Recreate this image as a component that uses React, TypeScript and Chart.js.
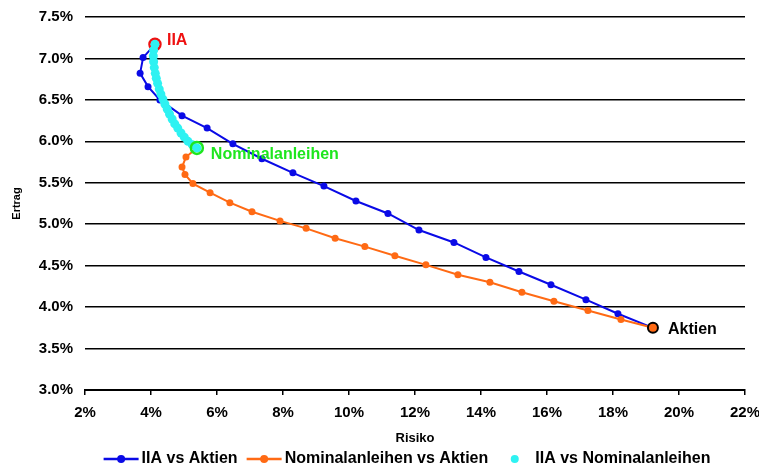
import React, { useEffect, useRef } from 'react';
import { Chart, registerables } from 'chart.js';

Chart.register(...registerables);

// ---- Data (Risiko %, Ertrag %) ----
const iiaAktienRisk = [4.12, 3.76, 3.67, 3.91, 4.27, 4.94, 5.70, 6.48, 7.36, 8.30, 9.24, 10.21, 11.18, 12.12, 13.18, 14.15, 15.15, 16.12, 17.18, 18.15, 19.21];
const iiaAktienReturn = [7.17, 7.01, 6.82, 6.66, 6.50, 6.31, 6.16, 5.97, 5.79, 5.62, 5.46, 5.28, 5.13, 4.93, 4.78, 4.60, 4.43, 4.27, 4.09, 3.92, 3.75];

const nomAktienRisk = [5.39, 5.06, 4.94, 5.03, 5.27, 5.79, 6.39, 7.06, 7.91, 8.70, 9.58, 10.48, 11.39, 12.33, 13.30, 14.27, 15.24, 16.21, 17.24, 18.24, 19.21];
const nomAktienReturn = [5.92, 5.81, 5.69, 5.60, 5.49, 5.38, 5.26, 5.15, 5.04, 4.95, 4.83, 4.73, 4.62, 4.51, 4.39, 4.30, 4.18, 4.07, 3.96, 3.85, 3.75];

const iiaNomRisk = [4.12, 4.08, 4.07, 4.08, 4.10, 4.13, 4.16, 4.20, 4.25, 4.30, 4.36, 4.42, 4.49, 4.56, 4.64, 4.72, 4.81, 4.91, 5.01, 5.12, 5.25, 5.39];
const iiaNomReturn = [7.17, 7.10, 7.03, 6.96, 6.89, 6.82, 6.76, 6.70, 6.63, 6.57, 6.51, 6.45, 6.39, 6.33, 6.27, 6.21, 6.16, 6.10, 6.05, 6.00, 5.96, 5.92];

const assetNames = ['IIA', 'Nominalanleihen', 'Aktien'];
const assetRisk = [4.12, 5.39, 19.21];
const assetReturn = [7.17, 5.92, 3.75];

const seriesLabels = ['IIA vs Aktien', 'Nominalanleihen vs Aktien', 'IIA vs Nominalanleihen'];

const xTicks = [2, 4, 6, 8, 10, 12, 14, 16, 18, 20, 22];
const yMin = 3.0;
const yMax = 7.5;
const yStep = 0.5;

const FONT = '"Liberation Sans", Arial, Helvetica, sans-serif';

const toPoints = (xs: number[], ys: number[]) => xs.map((x, i) => ({ x, y: ys[i] }));

const BLUE = '#0a0ae6';
const ORANGE = '#ff6a14';
const CYAN = '#2ef2f2';
const GREEN = '#1ee61e';
const RED = '#ee1111';

const legendPlugin = {
  id: 'customLegend',
  afterDraw(chart: any) {
    const ctx = chart.ctx as CanvasRenderingContext2D;
    const items = chart.data.datasets
      .filter((d: any) => d.inLegend)
      .sort((a: any, b: any) => seriesLabels.indexOf(a.label) - seriesLabels.indexOf(b.label));
    ctx.save();
    ctx.font = `bold 16px ${FONT}`;
    ctx.textBaseline = 'middle';
    const sampleW = 35, textGap = 3, itemGap = 9;
    const widths = items.map((d: any) => sampleW + textGap + ctx.measureText(d.label).width);
    const total = widths.reduce((a: number, b: number) => a + b, 0) + itemGap * (items.length - 1);
    const ca = chart.chartArea;
    let x = (ca.left + ca.right) / 2 - 8 - total / 2;
    const y = 459;
    items.forEach((d: any, i: number) => {
      const cx = x + sampleW / 2;
      if (d.showLine) {
        ctx.strokeStyle = d.borderColor;
        ctx.lineWidth = 2.5;
        ctx.beginPath();
        ctx.moveTo(x, y);
        ctx.lineTo(x + sampleW, y);
        ctx.stroke();
      }
      ctx.fillStyle = d.pointBackgroundColor;
      ctx.beginPath();
      ctx.arc(cx, y, 4, 0, Math.PI * 2);
      ctx.fill();
      ctx.fillStyle = '#000';
      ctx.fillText(d.label, x + sampleW + textGap, y);
      x += widths[i] + itemGap;
    });
    ctx.restore();
  },
};

const labelPlugin = {
  id: 'assetLabels',
  afterDatasetsDraw(chart: any) {
    const ctx = chart.ctx as CanvasRenderingContext2D;
    const xs = chart.scales.x;
    const ys = chart.scales.y;
    const colors = [RED, GREEN, '#000'];
    const offsets = [[12, -4], [14, 7], [15, 2]];
    ctx.save();
    ctx.font = `bold 16px ${FONT}`;
    ctx.textBaseline = 'middle';
    ctx.textAlign = 'left';
    assetNames.forEach((name, i) => {
      const px = xs.getPixelForValue(assetRisk[i]);
      const py = ys.getPixelForValue(assetReturn[i]);
      ctx.fillStyle = colors[i];
      ctx.fillText(name, px + offsets[i][0], py + offsets[i][1]);
    });
    ctx.restore();
  },
};

export default function App() {
  const ref = useRef<HTMLCanvasElement | null>(null);

  useEffect(() => {
    document.body.style.margin = '0';
    const canvas = ref.current;
    if (!canvas) return;
    Chart.defaults.font.family = FONT;
    const chart = new Chart(canvas, {
      type: 'scatter',
      data: {
        datasets: [
          {
            label: assetNames[1],
            data: [{ x: assetRisk[1], y: assetReturn[1] }],
            pointRadius: 6,
            pointBorderWidth: 2.5,
            pointBorderColor: GREEN,
            pointBackgroundColor: 'rgba(0,0,0,0)',
            showLine: false,
            order: 0,
          } as any,
          {
            label: seriesLabels[2],
            data: toPoints(iiaNomRisk, iiaNomReturn),
            showLine: false,
            pointRadius: 4.5,
            pointBorderWidth: 0,
            pointBackgroundColor: CYAN,
            pointBorderColor: CYAN,
            borderColor: CYAN,
            inLegend: true,
            order: 1,
          } as any,
          {
            label: assetNames[2],
            data: [{ x: assetRisk[2], y: assetReturn[2] }],
            pointRadius: 5,
            pointBorderWidth: 2,
            pointBorderColor: '#000',
            pointBackgroundColor: ORANGE,
            showLine: false,
            order: 2,
          } as any,
          {
            label: seriesLabels[1],
            data: toPoints(nomAktienRisk, nomAktienReturn),
            showLine: true,
            borderColor: ORANGE,
            borderWidth: 2,
            pointRadius: 3.5,
            pointBorderWidth: 0,
            pointBackgroundColor: ORANGE,
            pointBorderColor: ORANGE,
            inLegend: true,
            order: 3,
          } as any,
          {
            label: seriesLabels[0],
            data: toPoints(iiaAktienRisk, iiaAktienReturn),
            showLine: true,
            borderColor: BLUE,
            borderWidth: 2,
            pointRadius: 3.5,
            pointBorderWidth: 0,
            pointBackgroundColor: BLUE,
            pointBorderColor: BLUE,
            inLegend: true,
            order: 4,
          } as any,
          {
            label: assetNames[0],
            data: [{ x: assetRisk[0], y: assetReturn[0] }],
            pointRadius: 5.5,
            pointBorderWidth: 2.5,
            pointBorderColor: RED,
            pointBackgroundColor: '#fff',
            showLine: false,
            order: 5,
          } as any,
        ],
      },
      options: {
        responsive: false,
        animation: false,
        devicePixelRatio: 1,
        layout: { padding: { left: 0, right: 14, top: 17, bottom: 21 } },
        plugins: {
          legend: { display: false },
          tooltip: { enabled: false },
        },
        scales: {
          x: {
            type: 'linear',
            min: xTicks[0],
            max: xTicks[xTicks.length - 1],
            afterBuildTicks: (scale: any) => {
              scale.ticks = xTicks.map((v) => ({ value: v }));
            },
            afterFit: (scale: any) => {
              scale.height = 56;
              scale.paddingLeft = 0;
              scale.paddingRight = 0;
            },
            ticks: {
              callback: (v: any) => `${v}%`,
              font: { size: 15, weight: 'bold' },
              color: '#000',
              padding: 9,
              maxRotation: 0,
            },
            grid: {
              drawOnChartArea: false,
              drawTicks: true,
              tickLength: 5,
              color: '#000',
              lineWidth: 1.5,
            },
            border: { display: true, color: '#000', width: 2 },
            title: {
              display: true,
              text: 'Risiko',
              font: { size: 13, weight: 'bold' },
              color: '#000',
              padding: { top: 0, bottom: 0 },
            },
          },
          y: {
            type: 'linear',
            min: yMin,
            max: yMax,
            afterFit: (scale: any) => {
              scale.width = 85;
              scale.paddingTop = 0;
              scale.paddingBottom = 0;
            },
            ticks: {
              stepSize: yStep,
              callback: (v: any) => `${Number(v).toFixed(1)}%`,
              font: { size: 15, weight: 'bold' },
              color: '#000',
              padding: 12,
            },
            grid: {
              drawTicks: false,
              color: '#000',
              lineWidth: 1.5,
            },
            border: { display: false },
            title: {
              display: true,
              text: 'Ertrag',
              font: { size: 11, weight: 'bold' },
              color: '#000',
              padding: { top: 10, bottom: 0 },
            },
          },
        },
      } as any,
      plugins: [labelPlugin, legendPlugin],
    });
    return () => chart.destroy();
  }, []);

  return (
    <div style={{ width: 759, height: 467 }}>
      <canvas ref={ref} width={759} height={467} style={{ width: 759, height: 467, display: 'block' }} />
    </div>
  );
}
